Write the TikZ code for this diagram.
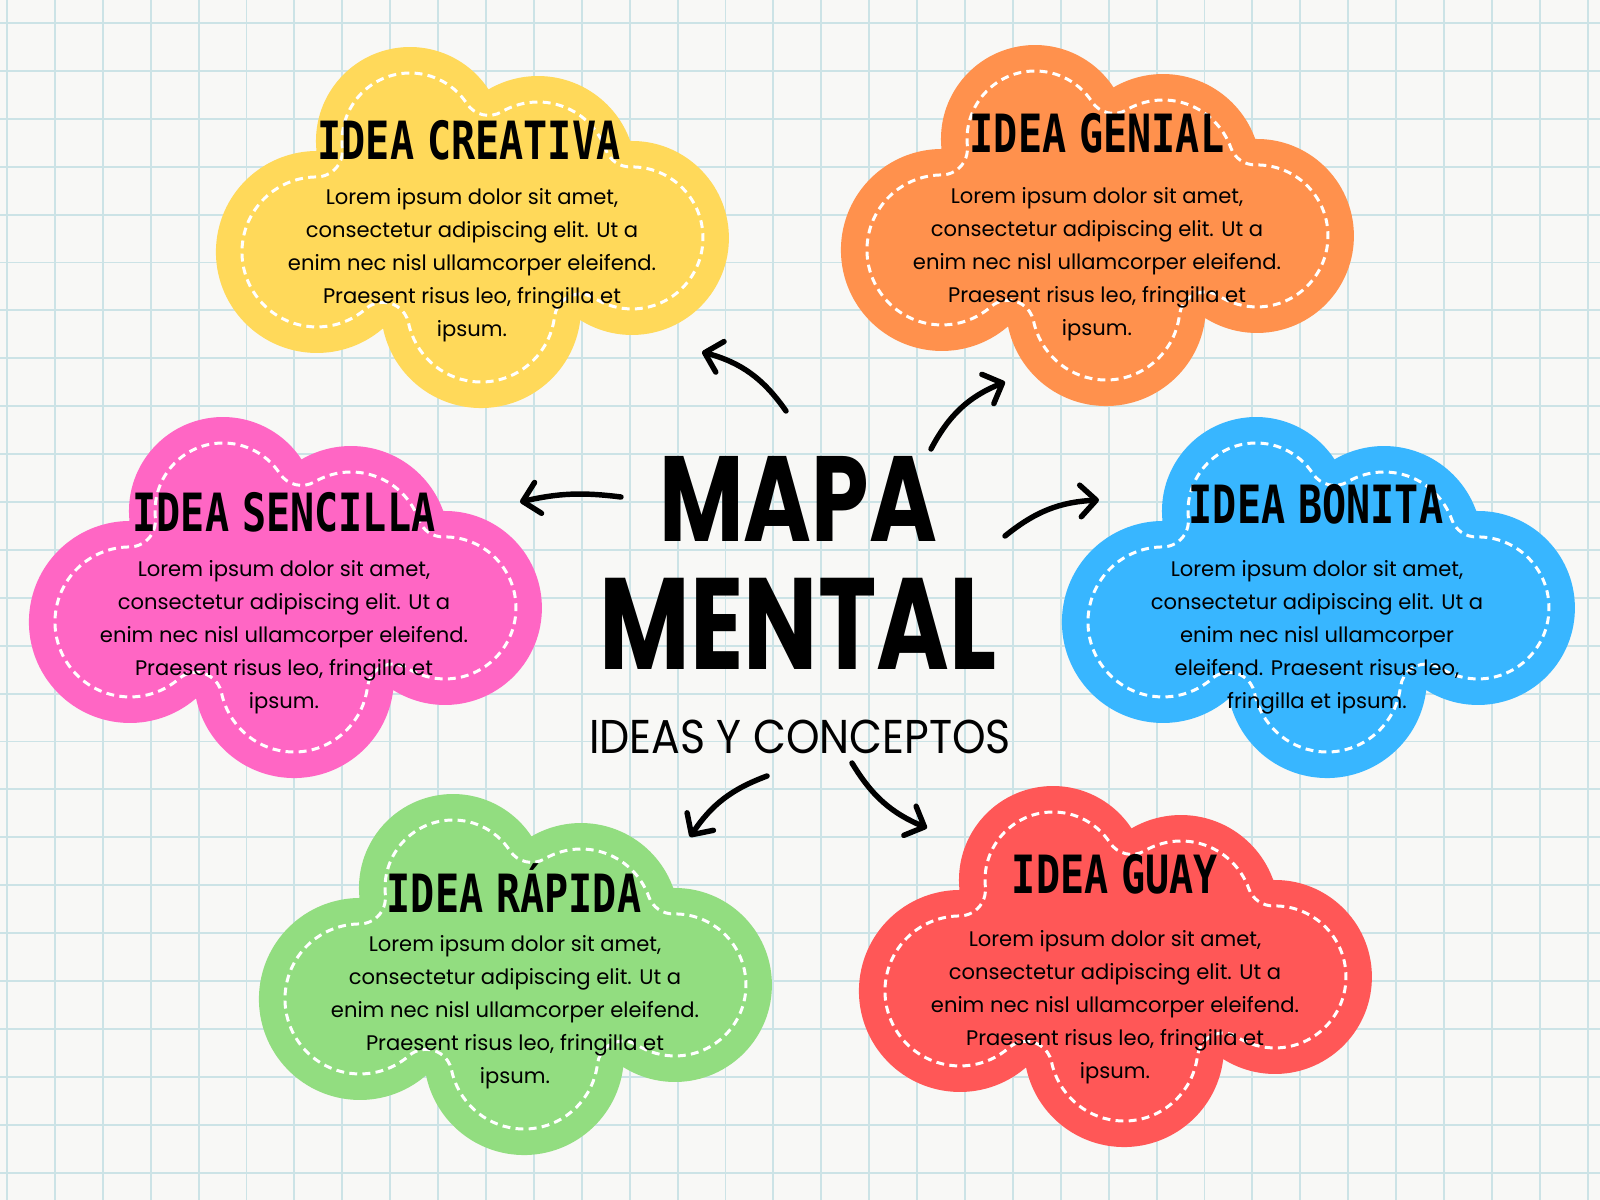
\documentclass[tikz,border=0pt]{standalone}
\usepackage{fontspec}
\setmainfont{Poppins}
\newfontfamily\headfont[FakeStretch=0.76, WordSpace=0.55]{DejaVu Sans Mono}
\newfontfamily\mapfont[FakeStretch=0.76]{Poppins}
\newfontfamily\subfont[FakeStretch=0.9]{Poppins}
\usetikzlibrary{arrows.meta, calc}
\definecolor{paper}{RGB}{248,248,246}
\definecolor{gridblue}{RGB}{204,227,230}
\definecolor{ideayellow}{RGB}{255,217,90}
\definecolor{ideaorange}{RGB}{255,145,77}
\definecolor{ideapink}{RGB}{255,102,196}
\definecolor{ideablue}{RGB}{56,182,255}
\definecolor{ideagreen}{RGB}{146,221,128}
\definecolor{ideared}{RGB}{255,87,87}
\newcommand{\loremtxt}{Lorem ipsum dolor sit amet,\\ consectetur adipiscing elit. Ut a\\ enim nec nisl ullamcorper eleifend.\\ Praesent risus leo, fringilla et\\ ipsum.}

\tikzset{
  stitch/.style={white, line width=1.7pt, dash pattern=on 4.5pt off 3pt},
  pics/cloud/.style={code={
    % five lobes
    \fill[#1] (-155.5,-77) arc[start angle=-186.1, end angle=-33.3, radius=94]
      arc[start angle=-120.3, end angle=-19.7, radius=98]
      arc[start angle=-91, end angle=122.2, radius=97]
      arc[start angle=6.9, end angle=168.3, radius=100]
      arc[start angle=49.1, end angle=269.7, radius=101] -- cycle;
    % stitched seam, 26 inside the edge
    \draw[stitch] (-129.6,-79.8) arc[start angle=-186.1, end angle=-33.3, radius=68]
      arc[start angle=146.7, end angle=59.7, radius=26]
      arc[start angle=-120.3, end angle=-19.7, radius=72]
      arc[start angle=160.3, end angle=89, radius=26]
      arc[start angle=-91, end angle=122.2, radius=71]
      arc[start angle=302.2, end angle=186.9, radius=26]
      arc[start angle=6.9, end angle=168.3, radius=74]
      arc[start angle=348.3, end angle=229.1, radius=26]
      arc[start angle=49.1, end angle=269.7, radius=75]
      arc[start angle=89.7, end angle=-6.1, radius=26] -- cycle;
  }},
  headline/.style={font=\headfont\bfseries\fontsize{30}{30}\selectfont, inner sep=0pt},
  bodytext/.style={font=\fontsize{12}{18.8}\selectfont, align=center, inner sep=0pt},
  bigword/.style={font=\mapfont\bfseries\fontsize{#1}{#1}\selectfont, inner sep=0pt},
  pointer/.style={line width=3.1pt, line cap=round,
    -{Straight Barb[length=9pt, width=18pt, line cap=round, line join=round]}}
}

\begin{document}
\begin{tikzpicture}[x=0.02cm, y=-0.02cm]
  \useasboundingbox (0,0) rectangle (1600,1200);
  % squared paper
  \fill[paper] (0,0) rectangle (1600,1200);
  \foreach \i in {0,...,33}
    \draw[gridblue, line width=1.1pt] ({7+47.9*\i},0) -- ++(0,1200);
  \foreach \i in {0,...,25}
    \draw[gridblue, line width=1.1pt] (0,{23+47.9*\i}) -- ++(1600,0);

  % clouds
  \pic at (472,228) {cloud=ideayellow};
  \node[headline] (creativa) at (469,140) {IDEA CREATIVA};
  \node[bodytext] (creativa-txt) at (472,265) {\loremtxt};

  \pic at (1097,226) {cloud=ideaorange};
  \node[headline] (genial) at (1097,133) {IDEA GENIAL};
  \node[bodytext] (genial-txt) at (1097,264) {\loremtxt};

  \pic at (285,598) {cloud=ideapink};
  \node[headline] (sencilla) at (284,512) {IDEA SENCILLA};
  \node[bodytext] (sencilla-txt) at (284,637) {\loremtxt};

  \pic at (1318,598) {cloud=ideablue};
  \node[headline] (bonita) at (1316,504) {IDEA BONITA};
  \node[bodytext] (bonita-txt) at (1317,637) {Lorem ipsum dolor sit amet,\\ consectetur adipiscing elit. Ut a\\ enim nec nisl ullamcorper\\ eleifend. Praesent risus leo,\\ fringilla et ipsum.};

  \pic at (515,975) {cloud=ideagreen};
  \node[headline] (rapida) at (514,888) {IDEA RÁPIDA};
  \node[bodytext] (rapida-txt) at (515,1012) {\loremtxt};

  \pic at (1115,967) {cloud=ideared};
  \node[headline] (guay) at (1115,874) {IDEA GUAY};
  \node[bodytext] (guay-txt) at (1115,1007) {\loremtxt};

  % centre
  \node[bigword=69] (mapa) at (798,499) {MAPA};
  \node[bigword=74] (mental) at (798,624) {MENTAL};
  \node[font=\subfont\fontsize{27}{27}\selectfont, inner sep=0pt] (ideas) at (800,737) {IDEAS Y CONCEPTOS};

  % arrows
  \coordinate (a1) at (786,411); \coordinate (b1) at (702,352);
  \coordinate (a2) at (931,449); \coordinate (b2) at (1005,382);
  \coordinate (a3) at (621,497); \coordinate (b3) at (520,502);
  \coordinate (a4) at (1005,536); \coordinate (b4) at (1099,500);
  \coordinate (a5) at (767,776); \coordinate (b5) at (690,837);
  \coordinate (a6) at (852,763); \coordinate (b6) at (927,828);
  \draw[pointer] (a1) to[bend right=20] (b1);
  \draw[pointer] (a2) to[bend left=20] (b2);
  \draw[pointer] (a3) to[bend right=10] (b3);
  \draw[pointer] (a4) to[bend left=18] (b4);
  \draw[pointer] (a5) to[bend right=18] (b5);
  \draw[pointer] (a6) to[bend right=18] (b6);
\end{tikzpicture}
\end{document}
